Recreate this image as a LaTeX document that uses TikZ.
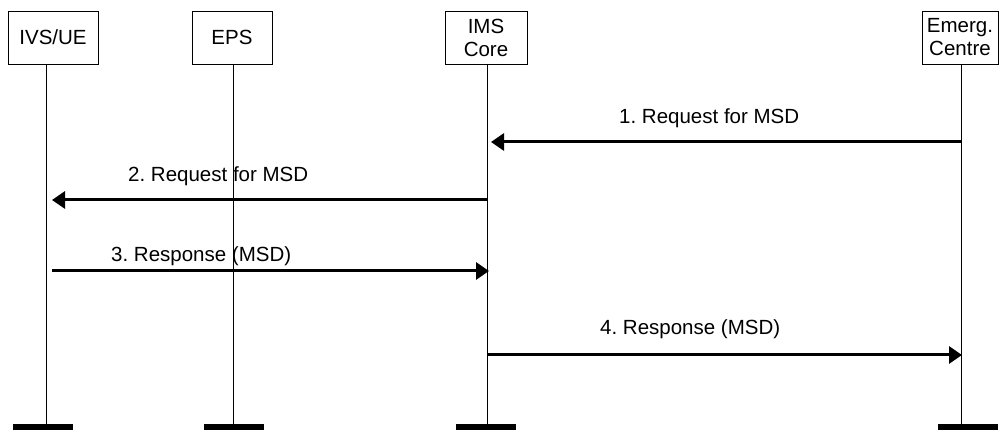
\documentclass[tikz,border=0pt]{standalone}
\usepackage{fontspec}
\setmainfont{Liberation Sans}
\usetikzlibrary{arrows.meta}
\frenchspacing
\begin{document}
\begin{tikzpicture}[x=1pt,y=-1pt,
  entity/.style={draw=black, line width=0.8pt, minimum height=53pt, inner sep=0pt,
    align=center, font=\fontsize{20.5}{23}\selectfont},
  lifeline/.style={draw=black, line width=0.9pt},
  bar/.style={fill=black, draw=none, minimum width=60pt, minimum height=7pt, inner sep=0pt},
  msg/.style={draw=black, line width=3pt, -{Triangle[length=13pt,width=17pt]}},
  lbl/.style={anchor=base west, inner sep=0pt, font=\fontsize{20.5}{23}\selectfont}]
\useasboundingbox (0,0) rectangle (999,430);
% header boxes
\node[entity, minimum width=90pt] (ue) at (53,37.5) {IVS/UE};
\node[entity, minimum width=80pt] (eps) at (232,37.5) {EPS};
\node[entity, minimum width=82pt] (ims) at (486,37.5) {IMS\\Core};
\node[entity, minimum width=76pt] (ec) at (960,37.5) {Emerg.\\Centre};
% bottom bars
\node[bar] (b1) at (43,427) {};
\node[bar] (b2) at (234,427) {};
\node[bar] (b3) at (486,427) {};
\node[bar] (b4) at (968,427) {};
% lifeline coordinates
\coordinate (t1) at (46,64);  \coordinate (e1) at (46,424);
\coordinate (t2) at (233,64); \coordinate (e2) at (233,424);
\coordinate (t3) at (487,64); \coordinate (e3) at (487,424);
\coordinate (t4) at (961,64); \coordinate (e4) at (961,424);
\draw[lifeline] (t1) -- (e1);
\draw[lifeline] (t2) -- (e2);
\draw[lifeline] (t3) -- (e3);
\draw[lifeline] (t4) -- (e4);
% message end points
\coordinate (m1a) at (961,142); \coordinate (m1b) at (491,142);
\coordinate (m2a) at (487,200); \coordinate (m2b) at (52,200);
\coordinate (m3a) at (52,271);  \coordinate (m3b) at (489,271);
\coordinate (m4a) at (488,355); \coordinate (m4b) at (962,355);
\draw[msg] (m1a) -- (m1b);
\draw[msg] (m2a) -- (m2b);
\draw[msg] (m3a) -- (m3b);
\draw[msg] (m4a) -- (m4b);
% labels
\node[lbl] (l1) at (619,124) {1. Request for MSD};
\node[lbl] (l2) at (128,182) {2. Request for MSD};
\node[lbl] (l3) at (111,262) {3. Response (MSD)};
\node[lbl] (l4) at (600,335) {4. Response (MSD)};
\end{tikzpicture}
\end{document}
